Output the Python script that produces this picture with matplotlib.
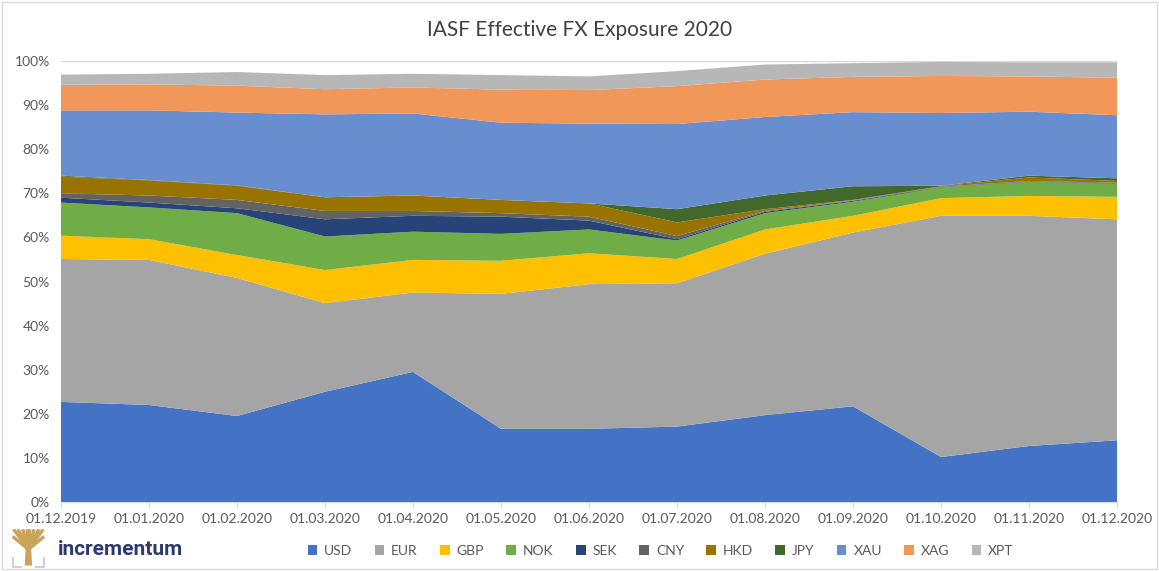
import matplotlib.pyplot as plt
import numpy as np
from matplotlib.patches import Rectangle

plt.rcParams['font.family'] = ['Lato', 'DejaVu Sans']

dates = ["01.12.2019", "01.01.2020", "01.02.2020", "01.03.2020", "01.04.2020",
         "01.05.2020", "01.06.2020", "01.07.2020", "01.08.2020", "01.09.2020",
         "01.10.2020", "01.11.2020", "01.12.2020"]

usd = [22.7, 22.0, 19.5, 25.0, 29.5, 16.6, 16.6, 17.1, 19.7, 21.7, 10.2, 12.7, 14.0]
eur = [32.4, 32.9, 31.3, 20.1, 18.0, 30.6, 32.8, 32.5, 36.6, 39.4, 54.7, 52.2, 50.1]
gbp = [5.3, 4.7, 5.2, 7.5, 7.4, 7.5, 7.0, 5.5, 5.5, 3.8, 4.0, 4.5, 5.1]
nok = [7.5, 7.2, 9.5, 7.6, 6.4, 6.1, 5.4, 4.2, 3.7, 3.2, 2.4, 3.2, 2.9]
sek = [1.1, 1.1, 1.1, 3.9, 3.6, 3.9, 2.0, 0.3, 0.3, 0.2, 0.1, 0.1, 0.1]
cny = [1.0, 1.6, 1.9, 1.9, 1.1, 0.8, 0.9, 0.7, 0.2, 0.1, 0.1, 0.1, 0.2]
hkd = [3.8, 3.4, 3.2, 3.1, 3.5, 3.0, 3.0, 3.1, 0.4, 0.1, 0.1, 0.8, 0.4]
jpy = [0.2, 0.1, 0.1, 0.0, 0.0, 0.0, 0.0, 3.0, 3.1, 3.1, 0.1, 0.4, 0.6]
xau = [14.8, 15.8, 16.5, 18.8, 18.6, 17.5, 18.1, 19.3, 17.8, 16.8, 16.5, 14.5, 14.3]
xag = [5.8, 5.9, 6.1, 5.7, 5.9, 7.5, 7.6, 8.6, 8.5, 8.0, 8.4, 8.0, 8.5]
xpt = [2.3, 2.4, 3.1, 3.2, 3.1, 3.3, 3.1, 3.4, 3.4, 3.1, 3.2, 3.2, 3.5]

names = ["USD", "EUR", "GBP", "NOK", "SEK", "CNY", "HKD", "JPY", "XAU", "XAG", "XPT"]
colors = ["#4472C4", "#A5A5A5", "#FFC000", "#70AD47", "#264478", "#636363",
          "#997300", "#43682B", "#698ED0", "#F1975A", "#B7B7B7"]

series = np.array([usd, eur, gbp, nok, sek, cny, hkd, jpy, xau, xag, xpt]) / 100.0
x = np.arange(len(dates))

fig = plt.figure(figsize=(11.59, 5.71), dpi=100)
ax = fig.add_axes([0.0526, 0.1208, 0.9112, 0.7724])

ax.stackplot(x, series, colors=colors, labels=names, linewidth=0)

ax.set_xlim(0, len(dates) - 1)
ax.set_ylim(0, 1.0)
ax.set_yticks(np.arange(0, 1.01, 0.1))
ax.set_yticklabels([f"{int(round(v * 100))}%" for v in np.arange(0, 1.01, 0.1)])
ax.set_xticks(x)
ax.set_xticklabels(dates)
ax.grid(axis="y", color="#D9D9D9", linewidth=1)
ax.set_axisbelow(True)
for s in ["top", "right", "left"]:
    ax.spines[s].set_visible(False)
ax.spines["bottom"].set_color("#D9D9D9")
ax.tick_params(axis="y", length=0, colors="#595959", labelsize=10, pad=8)
ax.tick_params(axis="x", length=4, color="#D9D9D9", colors="#595959", labelsize=10, pad=4)

fig.text(0.5, 0.948, "IASF Effective FX Exposure 2020", ha="center", va="center",
         fontsize=15, color="#404040")

handles, labels = ax.get_legend_handles_labels()
leg = fig.legend(handles, labels, loc="center", bbox_to_anchor=(0.57, 0.035), ncol=11,
                 frameon=False, fontsize=10, handlelength=0.7, handleheight=0.7,
                 columnspacing=1.6, handletextpad=0.5)
for t in leg.get_texts():
    t.set_color("#595959")

# logo: small gold tree + wordmark
logo = fig.add_axes([0.010, 0.005, 0.029, 0.068])
logo.set_xlim(0, 10)
logo.set_ylim(0, 12)
logo.axis("off")
gold = "#C9A55A"
logo.fill([3.9, 6.1, 5.8, 4.2], [0.8, 0.8, 6.5, 6.5], color=gold, lw=0)
for bx, by in [(0.6, 12), (1.9, 12), (3.3, 12), (4.6, 12), (5.4, 12), (6.7, 12),
               (8.1, 12), (9.4, 12), (0.3, 9.8), (9.7, 9.8)]:
    logo.plot([5, bx], [5.8, by], color=gold, lw=2.4, solid_capstyle="butt")
logo.plot([0.5, 0.5, 2.8], [3, 0.4, 0.4], color="#D0D0D0", lw=1.4)
logo.plot([9.5, 9.5, 7.2], [3, 0.4, 0.4], color="#D0D0D0", lw=1.4)

fig.text(0.050, 0.037, "incrementum", ha="left", va="center", fontsize=15,
         fontweight="bold", color="#2B3A6B", family=["Roboto", "DejaVu Sans"])

fig.patches.append(Rectangle((0.002, 0.003), 0.996, 0.994, transform=fig.transFigure,
                             facecolor="none", edgecolor="#D9D9D9", linewidth=1))

fig.savefig("out.png", dpi=100)
